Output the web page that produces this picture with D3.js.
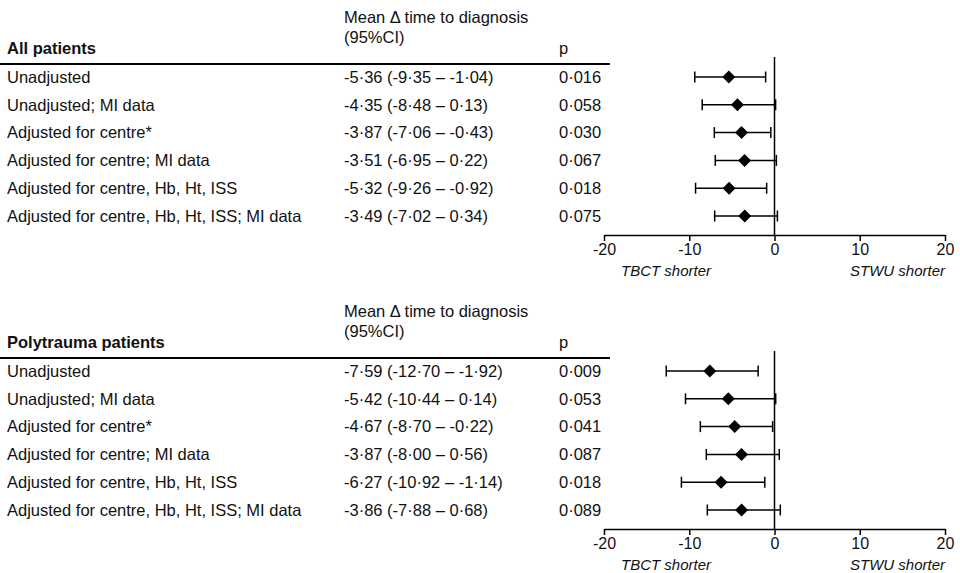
<!DOCTYPE html>
<html>
<head>
<meta charset="utf-8">
<script src="https://cdn.jsdelivr.net/npm/d3@7"></script>
<style>
  body { margin: 0; background: #fff; }
  text { font-family: "Liberation Sans", Arial, sans-serif; fill: #111; }
</style>
</head>
<body>
<div id="chart"></div>
<script>
const width = 960;
const height = 573;

const rowLabels = [
  "Unadjusted",
  "Unadjusted; MI data",
  "Adjusted for centre*",
  "Adjusted for centre; MI data",
  "Adjusted for centre, Hb, Ht, ISS",
  "Adjusted for centre, Hb, Ht, ISS; MI data",
];

// all patients
const allMean = [-5.36, -4.35, -3.87, -3.51, -5.32, -3.49];
const allLow = [-9.35, -8.48, -7.06, -6.95, -9.26, -7.02];
const allHigh = [-1.04, 0.13, -0.43, 0.22, -0.92, 0.34];
const allP = [0.016, 0.058, 0.03, 0.067, 0.018, 0.075];

// polytrauma patients
const polyMean = [-7.59, -5.42, -4.67, -3.87, -6.27, -3.86];
const polyLow = [-12.7, -10.44, -8.7, -8.0, -10.92, -7.88];
const polyHigh = [-1.92, 0.14, -0.22, 0.56, -1.14, 0.68];
const polyP = [0.009, 0.053, 0.041, 0.087, 0.018, 0.089];

const xTicks = [-20, -10, 0, 10, 20];

const svg = d3
  .select("#chart")
  .append("svg")
  .attr("width", width)
  .attr("height", height);

const x = d3.scaleLinear().domain([-20, 20]).range([604, 945]);

const fmt = (v, n) => v.toFixed(n).replace(".", "\u00b7");

function drawPanel(title, mean, low, high, pvals, offset) {
  const g = svg.append("g").attr("transform", `translate(0, ${offset})`);
  const y = d3.scalePoint().domain(d3.range(rowLabels.length)).range([77, 216]);
  const fs = "16.5px";
  const estX = 344;
  const pX = 559;

  g.append("text").attr("x", estX).attr("y", 23).style("font-size", fs)
    .text("Mean \u0394 time to diagnosis");
  g.append("text").attr("x", estX).attr("y", 43).style("font-size", fs)
    .text("(95%CI)");
  g.append("text").attr("x", 7).attr("y", 54).style("font-size", fs)
    .style("font-weight", "bold").text(title);
  g.append("text").attr("x", pX).attr("y", 54).style("font-size", fs).text("p");

  g.append("line").attr("x1", 0).attr("x2", 610).attr("y1", 64).attr("y2", 64)
    .attr("stroke", "#000").attr("stroke-width", 2);

  const rows = rowLabels.map((label, i) => ({
    label, mean: mean[i], low: low[i], high: high[i], p: pvals[i], i,
  }));

  const row = g.selectAll(".row").data(rows).enter().append("g")
    .attr("class", "row")
    .attr("transform", (d) => `translate(0, ${y(d.i)})`);

  row.append("text").attr("x", 7).attr("dy", "0.35em").style("font-size", fs)
    .text((d) => d.label);
  row.append("text").attr("x", estX).attr("dy", "0.35em").style("font-size", fs)
    .text((d) => `${fmt(d.mean, 2)} (${fmt(d.low, 2)} \u2013 ${fmt(d.high, 2)})`);
  row.append("text").attr("x", pX).attr("dy", "0.35em").style("font-size", fs)
    .text((d) => fmt(d.p, 3));

  // zero line
  g.append("line").attr("x1", x(0)).attr("x2", x(0)).attr("y1", 57).attr("y2", 235)
    .attr("stroke", "#000").attr("stroke-width", 1.5);

  // error bars
  row.append("line").attr("x1", (d) => x(d.low)).attr("x2", (d) => x(d.high))
    .attr("stroke", "#000").attr("stroke-width", 1.5);
  row.append("line").attr("x1", (d) => x(d.low)).attr("x2", (d) => x(d.low))
    .attr("y1", -5.5).attr("y2", 5.5).attr("stroke", "#000").attr("stroke-width", 1.5);
  row.append("line").attr("x1", (d) => x(d.high)).attr("x2", (d) => x(d.high))
    .attr("y1", -5.5).attr("y2", 5.5).attr("stroke", "#000").attr("stroke-width", 1.5);
  row.append("path")
    .attr("d", "M0,-6.5L6.5,0L0,6.5L-6.5,0Z")
    .attr("transform", (d) => `translate(${x(d.mean)},0)`)
    .attr("fill", "#000");

  const axis = g.append("g").attr("transform", "translate(0, 235)")
    .call(d3.axisBottom(x).tickValues(xTicks).tickFormat((d) => String(d))
      .tickSize(6).tickPadding(3).tickSizeOuter(0));
  axis.select(".domain").attr("stroke-width", 1.5);
  axis.selectAll(".tick line").attr("stroke-width", 1.5);
  axis.selectAll(".tick text").style("font-size", "16px")
    .style("font-family", "'Liberation Sans', Arial, sans-serif").attr("fill", "#111");

  g.append("text").attr("x", 621).attr("y", 276).style("font-size", "15px")
    .style("font-style", "italic").text("TBCT shorter");
  g.append("text").attr("x", 945).attr("y", 276).attr("text-anchor", "end")
    .style("font-size", "15px").style("font-style", "italic").text("STWU shorter");
}

drawPanel("All patients", allMean, allLow, allHigh, allP, 0);
drawPanel("Polytrauma patients", polyMean, polyLow, polyHigh, polyP, 294);
</script>
</body>
</html>
